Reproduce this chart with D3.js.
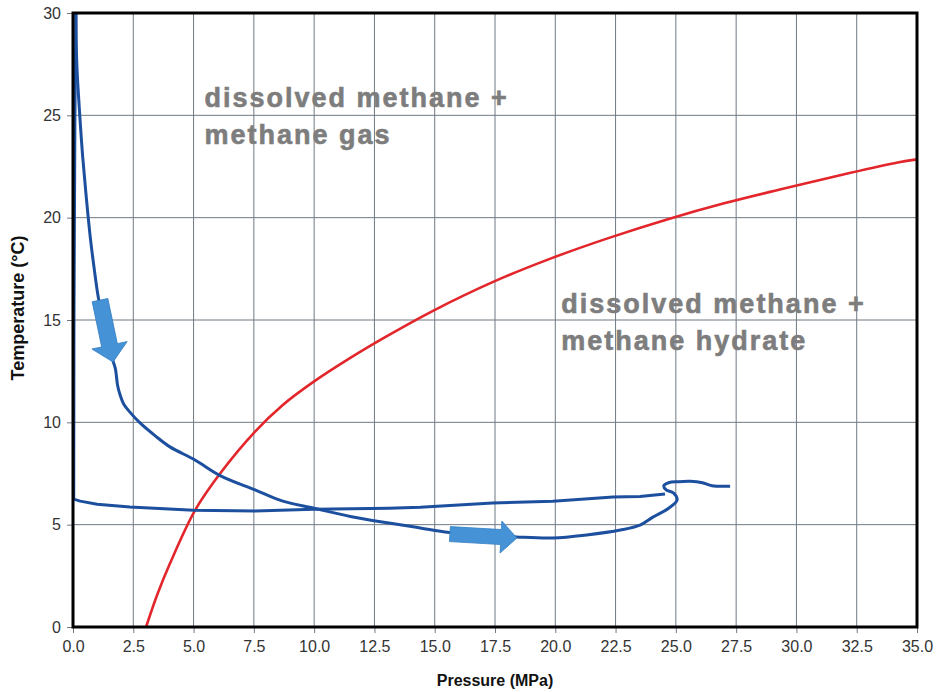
<!DOCTYPE html>
<html>
<head>
<meta charset="utf-8">
<script src="https://cdn.jsdelivr.net/npm/d3@7"></script>
<style>
  html, body { margin: 0; padding: 0; background: #ffffff; }
  svg { display: block; }
</style>
</head>
<body>
<svg id="chart" width="938" height="692"></svg>
<script>
// ---------- data ----------
const xTicks = [0, 2.5, 5, 7.5, 10, 12.5, 15, 17.5, 20, 22.5, 25, 27.5, 30, 32.5, 35];
const yTicks = [0, 5, 10, 15, 20, 25, 30];

// hydrate equilibrium curve (pressure MPa, temperature °C)
const hydrateP = [3.03, 3.5, 4.02, 5.06, 6.1, 7.55, 8.7, 10.0, 11.5, 13.0, 14.93, 17.4, 19.8, 22.2, 24.6, 27.0, 29.4, 31.9, 34.2, 35.0];
const hydrateT = [0.0, 1.6, 3.1, 5.7, 7.5, 9.55, 10.85, 12.0, 13.15, 14.2, 15.45, 16.85, 18.0, 19.0, 19.9, 20.7, 21.4, 22.1, 22.7, 22.85];

// experiment path: cooling / pressurising branch, incl. loop and end
const coolP = [0.12, 0.15, 0.2, 0.28, 0.4, 0.55, 0.72, 0.88, 1.05, 1.33, 1.66, 1.76, 1.85, 1.95, 2.1, 2.36, 2.78, 3.4, 4.02, 5.06, 6.1, 7.55, 8.7, 10.0, 11.5, 13.1, 14.4, 15.6, 18.4, 19.9, 21.3, 22.7, 23.51, 24.05, 24.7, 25.05, 24.9, 24.6, 24.5, 24.7, 25.1, 25.6, 26.1, 26.5, 27.25];
const coolT = [30.0, 27.8, 26.5, 25.0, 23.0, 21.0, 19.0, 17.5, 16.1, 14.5, 13.0, 12.6, 11.8, 11.35, 10.9, 10.5, 9.97, 9.35, 8.8, 8.16, 7.4, 6.7, 6.15, 5.8, 5.4, 5.08, 4.84, 4.62, 4.4, 4.35, 4.5, 4.74, 4.98, 5.37, 5.8, 6.2, 6.55, 6.7, 6.9, 7.05, 7.1, 7.12, 7.05, 6.9, 6.88];

// return (depressurising / warming) branch
const returnP = [24.55, 23.51, 22.4, 19.9, 17.4, 14.4, 13.1, 10.0, 7.55, 5.0, 2.36, 1.0, 0.3, 0.03, 0.04, 0.08, 0.12];
const returnT = [6.5, 6.38, 6.35, 6.15, 6.06, 5.85, 5.8, 5.75, 5.67, 5.7, 5.86, 6.0, 6.15, 6.25, 15.0, 25.0, 30.0];

// direction arrows (from / to, in data units)
const arrowFromP = [1.12, 15.63];
const arrowFromT = [15.97, 4.54];
const arrowToP = [1.66, 18.41];
const arrowToT = [12.95, 4.35];

// region labels
const labelLines = [
  ["dissolved methane +", "methane gas"],
  ["dissolved methane +", "methane hydrate"]
];
const labelP = [5.45, 20.25];
const labelT = [25.4, 15.35];

// ---------- layout ----------
const svg = d3.select("#chart");
const mLeft = 73, mRight = 917, mTop = 13, mBottom = 627;

const x = d3.scaleLinear().domain([0, 35]).range([mLeft, mRight]);
const y = d3.scaleLinear().domain([0, 30]).range([mBottom, mTop]);

svg.append("rect").attr("width", 938).attr("height", 692).attr("fill", "#ffffff");

// gridlines
const grid = svg.append("g");
grid.selectAll("line.v").data(xTicks.slice(1, -1)).enter().append("line")
  .attr("x1", d => x(d)).attr("x2", d => x(d))
  .attr("y1", mTop).attr("y2", mBottom)
  .attr("stroke", "#6f7983").attr("stroke-width", 1);
grid.selectAll("line.h").data(yTicks.slice(1, -1)).enter().append("line")
  .attr("x1", mLeft).attr("x2", mRight)
  .attr("y1", d => y(d)).attr("y2", d => y(d))
  .attr("stroke", "#6f7983").attr("stroke-width", 1);

// axes
const xAxis = d3.axisBottom(x).tickValues(xTicks).tickFormat(d3.format(".1f")).tickSize(6).tickPadding(8);
const yAxis = d3.axisLeft(y).tickValues(yTicks).tickFormat(d3.format("d")).tickSize(6).tickPadding(6);

const gx = svg.append("g").attr("transform", `translate(0,${mBottom})`).call(xAxis);
const gy = svg.append("g").attr("transform", `translate(${mLeft},0)`).call(yAxis);
[gx, gy].forEach(g => {
  g.select(".domain").remove();
  g.selectAll(".tick line").attr("stroke", "#6f7983");
  g.selectAll(".tick text")
    .attr("fill", "#333333")
    .style("font-family", "'Liberation Sans', Arial, sans-serif")
    .style("font-size", "16px");
});

// region labels
const labels = svg.append("g");
labelLines.forEach((lines, i) => {
  const t = labels.append("text")
    .attr("x", x(labelP[i])).attr("y", y(labelT[i]))
    .attr("fill", "#7d7d7d")
    .attr("stroke", "#7d7d7d").attr("stroke-width", 0.6)
    .style("font-family", "'Liberation Sans', Arial, sans-serif")
    .style("font-weight", "bold")
    .style("font-size", "27px")
    .style("letter-spacing", "2px");
  lines.forEach((l, j) => {
    t.append("tspan").attr("x", x(labelP[i])).attr("dy", j === 0 ? 0 : 37).text(l);
  });
});

// lines
const smooth = d3.line().x(d => x(d[0])).y(d => y(d[1])).curve(d3.curveCatmullRom.alpha(0.5));
const straight = d3.line().x(d => x(d[0])).y(d => y(d[1]));

svg.append("path")
  .datum(hydrateP.map((p, i) => [p, hydrateT[i]]))
  .attr("d", smooth).attr("fill", "none")
  .attr("stroke", "#e2262b").attr("stroke-width", 2.6);

svg.append("path")
  .datum(returnP.map((p, i) => [p, returnT[i]]))
  .attr("d", straight).attr("fill", "none")
  .attr("stroke", "#1d4f9f").attr("stroke-width", 3)
  .attr("stroke-linejoin", "round");

svg.append("path")
  .datum(coolP.map((p, i) => [p, coolT[i]]))
  .attr("d", smooth).attr("fill", "none")
  .attr("stroke", "#1d4f9f").attr("stroke-width", 3)
  .attr("stroke-linejoin", "round");

// block arrows
const arrowStyle = [
  { body: 16, head: 36, headLen: 17 },
  { body: 15, head: 32, headLen: 16 }
];
arrowFromP.forEach((p, i) => {
  const x1 = x(p), y1 = y(arrowFromT[i]);
  const x2 = x(arrowToP[i]), y2 = y(arrowToT[i]);
  const len = Math.hypot(x2 - x1, y2 - y1);
  const ang = Math.atan2(y2 - y1, x2 - x1) * 180 / Math.PI;
  const s = arrowStyle[i];
  const b = s.body / 2, h = s.head / 2, L = len - s.headLen;
  const pts = [[0, -b], [L, -b], [L, -h], [len, 0], [L, h], [L, b], [0, b]];
  svg.append("polygon")
    .attr("points", pts.map(q => q.join(",")).join(" "))
    .attr("transform", `translate(${x1},${y1}) rotate(${ang})`)
    .attr("fill", "#4593d6")
    .attr("stroke", "#3480c4").attr("stroke-width", 0.8);
});

// frame
svg.append("rect")
  .attr("x", mLeft).attr("y", mTop)
  .attr("width", mRight - mLeft).attr("height", mBottom - mTop)
  .attr("fill", "none").attr("stroke", "#000000").attr("stroke-width", 3);

// axis titles
svg.append("text")
  .attr("x", (mLeft + mRight) / 2).attr("y", 686)
  .attr("text-anchor", "middle")
  .attr("fill", "#111111")
  .style("font-family", "'Liberation Sans', Arial, sans-serif")
  .style("font-weight", "bold").style("font-size", "16px")
  .text("Pressure (MPa)");

svg.append("text")
  .attr("transform", `translate(24,308) rotate(-90)`)
  .attr("text-anchor", "middle")
  .attr("fill", "#111111")
  .style("font-family", "'Liberation Sans', Arial, sans-serif")
  .style("font-weight", "bold").style("font-size", "18px")
  .text("Temperature (°C)");
</script>
</body>
</html>
